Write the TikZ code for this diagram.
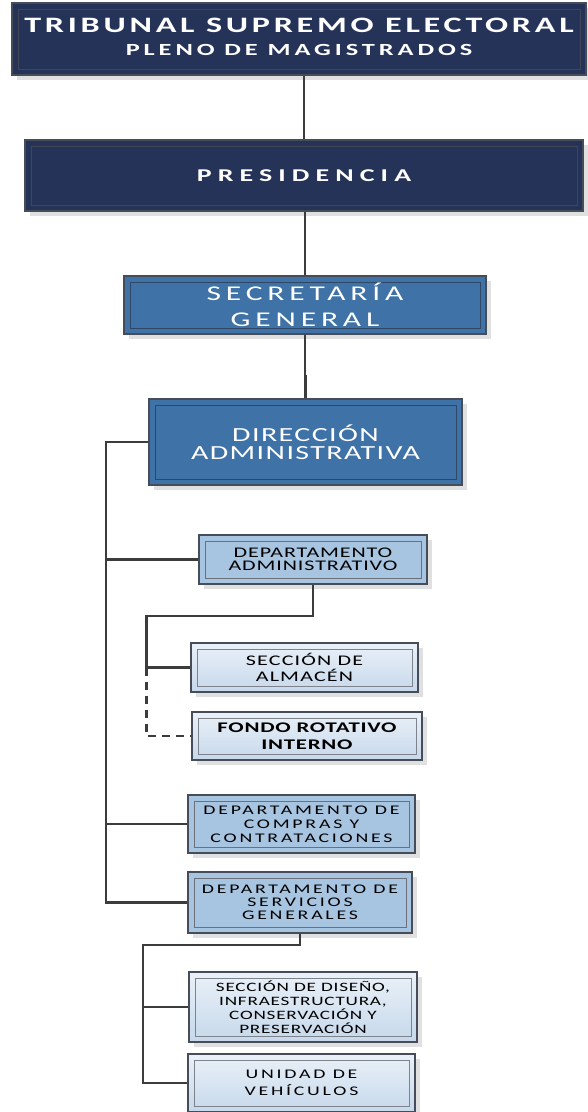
\documentclass[tikz,border=0pt]{standalone}
\usepackage{fontspec}
\setmainfont{Carlito}[FakeStretch=1.5, BoldFeatures={FakeStretch=1.55}]
\usetikzlibrary{calc,positioning,shadows}

\definecolor{navyfill}{RGB}{38,51,89}
\definecolor{navyline}{RGB}{66,70,84}
\definecolor{midfill}{RGB}{63,114,166}
\definecolor{midline}{RGB}{47,70,100}
\definecolor{deptfill}{RGB}{167,196,224}
\definecolor{secttop}{RGB}{234,241,248}
\definecolor{sectbot}{RGB}{198,216,235}
\definecolor{boxline}{RGB}{70,76,88}
\definecolor{linkgray}{RGB}{60,60,60}

\newcommand{\wide}[1]{\addfontfeatures{LetterSpace=#1}}

\tikzset{
orgbox/.style={
  rectangle,
  line width=1.5pt,
  draw=boxline,
  inner sep=0pt,
  align=center,
  drop shadow={shadow xshift=5pt, shadow yshift=-5pt, fill=black!12, opacity=1},
  path picture={\draw[line width=1pt, draw=#1]
    ([shift={(6pt,-6pt)}]path picture bounding box.north west) rectangle
    ([shift={(-6pt,6pt)}]path picture bounding box.south east);},
  }
}
\tikzset{
navybox/.style={
  orgbox=navyline,
  fill=navyfill,
  text=white,
  }
}
\tikzset{
midbox/.style={
  orgbox=midline,
  fill=midfill,
  text=white,
  }
}
\tikzset{
deptbox/.style={
  orgbox=boxline!80,
  fill=deptfill,
  text=black,
  }
}
\tikzset{
sectbox/.style={
  orgbox=boxline!70,
  top color=secttop,
  bottom color=sectbot,
  text=black,
  }
}
\tikzset{
orgline/.style={
  line width=2.8pt,
  draw=linkgray,
  }
}

\begin{document}
\begin{tikzpicture}[x=1pt,y=-1pt]
    \useasboundingbox (0,0) rectangle (587,1112);

    % top part
    \node[navybox, minimum width=574, minimum height=72,
      font={\bfseries\fontsize{17}{18}\selectfont\wide{23}}] (tse) at (299,39)
      {\raisebox{3pt}{\begin{tabular}{@{}c@{}}{\fontsize{22}{18}\selectfont\wide{17}TRIBUNAL SUPREMO ELECTORAL}\\[5pt]PLENO DE MAGISTRADOS\end{tabular}}};
    \node[navybox, minimum width=558, minimum height=71,
      font={\bfseries\fontsize{18}{19}\selectfont\wide{34}}] (pres) at (304,175.5)
      {PRESIDENCIA};
    \node[midbox, minimum width=362, minimum height=58,
      font={\fontsize{21}{25.7}\selectfont\wide{23}}] (sec) at (305,305)
      {SECRETARÍA\\GENERAL};
    \node[midbox, minimum width=313, minimum height=86,
      font={\fontsize{20}{18}\selectfont\wide{7}}] (dir) at (305.5,442)
      {DIRECCIÓN\\ADMINISTRATIVA};

    % administrative department
    \node[deptbox, minimum width=228, minimum height=49,
      font={\fontsize{14.7}{13.3}\selectfont\wide{6}}] (admin) at (313,559.5)
      {DEPARTAMENTO\\ADMINISTRATIVO};
    \node[sectbox, minimum width=227, minimum height=49,
      font={\fontsize{14.7}{16.7}\selectfont\wide{8}}] (alm) at (304.5,667.5)
      {SECCIÓN DE\\ALMACÉN};
    \node[sectbox, minimum width=230, minimum height=48,
      font={\bfseries\fontsize{14.7}{16.7}\selectfont\wide{5}}] (fondo) at (307,736)
      {FONDO ROTATIVO\\INTERNO};

    % other departments
    \node[deptbox, minimum width=227, minimum height=58,
      font={\fontsize{13.2}{14}\selectfont\wide{21}}] (compras) at (301.5,824)
      {DEPARTAMENTO DE\\COMPRAS Y\\CONTRATACIONES};
    \node[deptbox, minimum width=224, minimum height=61,
      font={\fontsize{13.2}{13}\selectfont\wide{21}}] (serv) at (300,902.5)
      {DEPARTAMENTO DE\\SERVICIOS\\GENERALES};
    \node[sectbox, minimum width=228, minimum height=70,
      font={\fontsize{12.8}{14}\selectfont\wide{6}}] (diseno) at (303,1007)
      {SECCIÓN DE DISEÑO,\\INFRAESTRUCTURA,\\CONSERVACIÓN Y\\PRESERVACIÓN};
    \node[sectbox, minimum width=227, minimum height=58,
      font={\fontsize{13.2}{16.7}\selectfont\wide{21}}] (unidad) at (301.5,1083)
      {UNIDAD DE\\VEHÍCULOS};

    % bus coordinates
    \coordinate (trunk) at (106,442);
    \coordinate (adminbus) at (146.5,616);
    \coordinate (servbus) at (143,945);

    % main edges
    \draw[orgline] (pres.north) -- (pres.north |- tse.south);
    \draw[orgline] (sec.north |- pres.south) -- (sec.north);
    \draw[orgline] (sec.south) |- ($(dir.north)+(0,-22)$) -| (dir.north);

    % department edges
    \draw[orgline] (dir.west) -- (trunk) |- (serv.west);
    \draw[orgline] (admin.west) -- (admin.west -| trunk);
    \draw[orgline] (compras.west) -- (compras.west -| trunk);

    % section edges
    \draw[orgline] (admin.south) |- (adminbus) |- (alm.west);
    \draw[orgline, dash pattern=on 8pt off 6pt] (alm.west -| adminbus) |- (fondo.west);
    \draw[orgline] (serv.south) |- (servbus) |- (unidad.west);
    \draw[orgline] (diseno.west) -- (diseno.west -| servbus);
\end{tikzpicture}
\end{document}
